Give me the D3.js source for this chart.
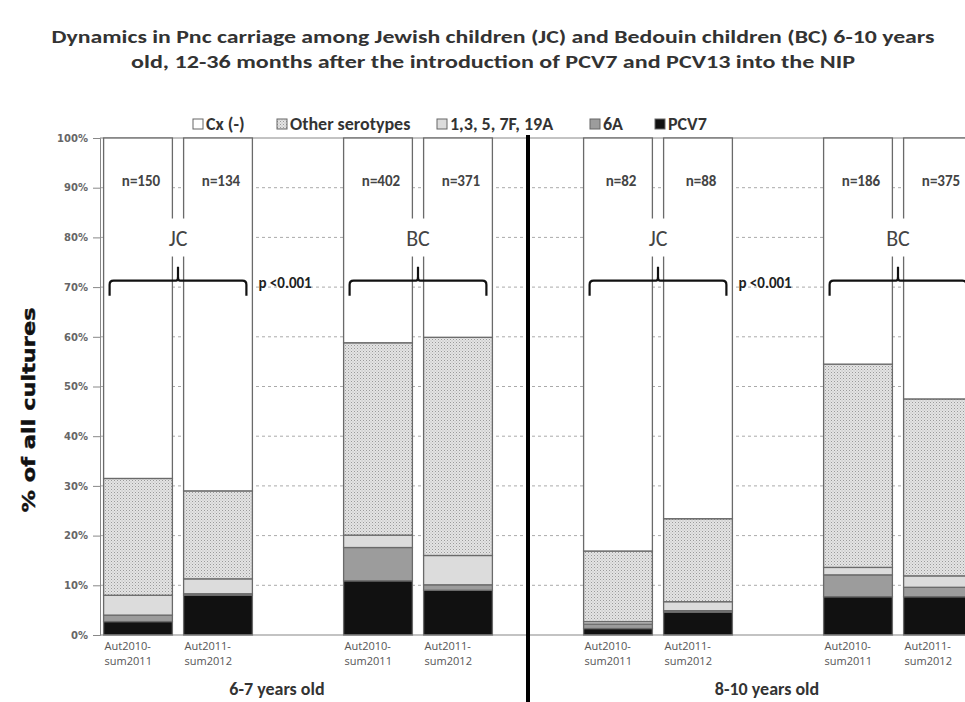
<!DOCTYPE html>
<html>
<head>
<meta charset="utf-8">
<script src="https://cdn.jsdelivr.net/npm/d3@7/dist/d3.min.js"></script>
<style>
  body { margin: 0; background: #fff; }
  svg { display: block; }
</style>
</head>
<body>
<svg id="chart"></svg>
<script>
const width = 965;
const height = 702;

// slots along the x axis, gaps included
const slots = ["JC67a", "JC67b", "gap1", "BC67a", "BC67b", "gap2", "JC810a", "JC810b", "gap3", "BC810a", "BC810b"];
const barKeys = ["JC67a", "JC67b", "BC67a", "BC67b", "JC810a", "JC810b", "BC810a", "BC810b"];
const periodTop = ["Aut2010-", "Aut2011-", "Aut2010-", "Aut2011-", "Aut2010-", "Aut2011-", "Aut2010-", "Aut2011-"];
const periodBottom = ["sum2011", "sum2012", "sum2011", "sum2012", "sum2011", "sum2012", "sum2011", "sum2012"];
const nCounts = [150, 134, 402, 371, 82, 88, 186, 375];

// percent of cultures, bottom to top
const pcv7   = [2.7, 8.0, 10.9, 9.0, 1.3, 4.6, 7.7, 7.7];
const sixA   = [1.3, 0.3, 6.7, 1.1, 0.9, 0.3, 4.4, 1.9];
const sero13 = [4.0, 3.0, 2.5, 5.9, 0.5, 1.8, 1.5, 2.3];
const other  = [23.5, 17.7, 38.7, 43.9, 14.2, 16.7, 40.9, 35.6];
const cxNeg  = [68.5, 71.0, 41.2, 40.1, 83.1, 76.6, 45.5, 52.5];

const seriesKeys = ["pcv7", "sixA", "sero13", "other", "cx"];
const legendLabels = ["Cx (-)", "Other serotypes", "1,3,  5, 7F, 19A", "6A", "PCV7"];
const legendKeys = ["cx", "other", "sero13", "sixA", "pcv7"];

const groups = [
  { label: "JC", a: "JC67a", b: "JC67b", p: "p <0.001" },
  { label: "BC", a: "BC67a", b: "BC67b", p: "" },
  { label: "JC", a: "JC810a", b: "JC810b", p: "p <0.001" },
  { label: "BC", a: "BC810a", b: "BC810b", p: "" }
];
const ageLabels = [
  { label: "6-7 years old", at: 277 },
  { label: "8-10 years old", at: 767 }
];

const yTicks = [0, 10, 20, 30, 40, 50, 60, 70, 80, 90, 100];

const rows = barKeys.map((k, i) => ({
  key: k, pcv7: pcv7[i], sixA: sixA[i], sero13: sero13[i], other: other[i], cx: cxNeg[i]
}));

const svg = d3.select("#chart").attr("width", width).attr("height", height);
const font = "Carlito, 'Open Sans', 'Liberation Sans', sans-serif";

const defs = svg.append("defs");
const pat = defs.append("pattern")
  .attr("id", "dots")
  .attr("patternUnits", "userSpaceOnUse")
  .attr("width", 3).attr("height", 3);
pat.append("rect").attr("width", 3).attr("height", 3).attr("fill", "#e4e4e4");
pat.append("rect").attr("x", 0).attr("y", 0).attr("width", 1).attr("height", 1).attr("fill", "#9a9a9a");
pat.append("rect").attr("x", 1.5).attr("y", 1.5).attr("width", 1).attr("height", 1).attr("fill", "#b5b5b5");

const fills = {
  pcv7: "#111111",
  sixA: "#9c9c9c",
  sero13: "#dcdcdc",
  other: "url(#dots)",
  cx: "#ffffff"
};

const x = d3.scaleBand()
  .domain(slots)
  .range([98, 978])
  .paddingInner(0.14)
  .paddingOuter(0.07);

const y = d3.scaleLinear().domain([0, 100]).range([635, 138]);

// title
svg.append("g").selectAll("text")
  .data(["Dynamics in Pnc carriage among Jewish children (JC) and Bedouin children (BC) 6-10 years",
         "old, 12-36 months after the introduction of PCV7 and PCV13 into the NIP"])
  .enter().append("text")
    .attr("x", 493)
    .attr("y", (d, i) => 43 + i * 25)
    .attr("text-anchor", "middle")
    .attr("font-family", font)
    .attr("font-weight", "bold")
    .attr("font-size", 18)
    .attr("fill", "#333")
    .attr("textLength", (d, i) => i === 0 ? 883 : 724)
    .attr("lengthAdjust", "spacingAndGlyphs")
    .text(d => d);

// grid
svg.append("g").selectAll("line")
  .data(yTicks.filter(t => t > 0 && t < 100))
  .enter().append("line")
    .attr("x1", 100).attr("x2", width)
    .attr("y1", d => y(d)).attr("y2", d => y(d))
    .attr("stroke", "#aaa")
    .attr("stroke-width", 1)
    .attr("stroke-dasharray", "3,3");

svg.append("line")
  .attr("x1", 100).attr("x2", width)
  .attr("y1", y(100)).attr("y2", y(100))
  .attr("stroke", "#888").attr("stroke-width", 1.2);

// y axis
const yAxis = d3.axisLeft(y)
  .tickValues(yTicks)
  .tickFormat(d => d + "%")
  .tickSize(7)
  .tickPadding(5);
const yg = svg.append("g").attr("transform", "translate(100,0)").call(yAxis);
yg.select(".domain").attr("stroke", "#888");
yg.selectAll(".tick line").attr("stroke", "#888");
yg.selectAll(".tick text")
  .attr("font-family", "'DejaVu Sans', sans-serif")
  .attr("font-weight", "bold")
  .attr("font-size", 10)
  .attr("fill", "#666");

svg.append("text")
  .attr("transform", "translate(35,410) rotate(-90)")
  .attr("text-anchor", "middle")
  .attr("font-family", "'DejaVu Sans', sans-serif")
  .attr("font-weight", "bold")
  .attr("font-size", 17)
  .attr("fill", "#111")
  .attr("stroke", "#111")
  .attr("stroke-width", 0.4)
  .attr("textLength", 205)
  .attr("lengthAdjust", "spacingAndGlyphs")
  .text("% of all cultures");

// stacked bars
const stacked = d3.stack().keys(seriesKeys)(rows);
svg.append("g").selectAll("g")
  .data(stacked)
  .enter().append("g")
    .attr("fill", d => fills[d.key])
  .selectAll("rect")
  .data(d => d)
  .enter().append("rect")
    .attr("x", d => x(d.data.key))
    .attr("y", d => y(d[1]))
    .attr("width", x.bandwidth())
    .attr("height", d => y(d[0]) - y(d[1]))
    .attr("stroke", "#6a6a6a")
    .attr("stroke-width", 1.3);

// x axis line
svg.append("line")
  .attr("x1", 100).attr("x2", width)
  .attr("y1", y(0)).attr("y2", y(0))
  .attr("stroke", "#888").attr("stroke-width", 1.2);

// category labels
const catLabels = svg.append("g")
  .attr("font-family", "'Open Sans', sans-serif")
  .attr("font-size", 11)
  .attr("fill", "#555");
catLabels.selectAll("text.top")
  .data(barKeys)
  .enter().append("text")
    .attr("class", "top")
    .attr("x", d => x(d) + 1)
    .attr("y", 650)
    .text((d, i) => periodTop[i]);
catLabels.selectAll("text.bot")
  .data(barKeys)
  .enter().append("text")
    .attr("class", "bot")
    .attr("x", d => x(d) + 1)
    .attr("y", 665)
    .text((d, i) => periodBottom[i]);

svg.append("g").selectAll("text")
  .data(ageLabels)
  .enter().append("text")
    .attr("x", d => d.at)
    .attr("y", 695)
    .attr("text-anchor", "middle")
    .attr("font-family", font)
    .attr("font-weight", "bold")
    .attr("font-size", 18)
    .attr("fill", "#333")
    .text(d => d.label);

// n labels
svg.append("g").selectAll("text")
  .data(barKeys)
  .enter().append("text")
    .attr("x", d => x(d) + x.bandwidth() / 2 + 3)
    .attr("y", 186)
    .attr("text-anchor", "middle")
    .attr("font-family", font)
    .attr("font-weight", "bold")
    .attr("font-size", 15)
    .attr("fill", "#444")
    .text((d, i) => "n=" + nCounts[i]);

// group labels and braces
const gG = svg.append("g");
groups.forEach(g => {
  const x0 = x(g.a) + 6;
  const x1 = x(g.b) + x.bandwidth() - 6;
  const xm = (x(g.a) + x.bandwidth() + x(g.b)) / 2;
  const yb = y(71.3);
  const r = 4;
  gG.append("rect")
    .attr("x", xm - 19).attr("y", y(83.8))
    .attr("width", 38).attr("height", 38)
    .attr("fill", "#fff");
  gG.append("text")
    .attr("x", xm).attr("y", y(78.2))
    .attr("text-anchor", "middle")
    .attr("font-family", font)
    .attr("font-size", 22)
    .attr("fill", "#444")
    .text(g.label);
  const p = d3.path();
  p.moveTo(x0, yb + 15);
  p.lineTo(x0, yb + r);
  p.quadraticCurveTo(x0, yb, x0 + r, yb);
  p.lineTo(xm - 2, yb);
  p.quadraticCurveTo(xm, yb, xm, yb - 4);
  p.lineTo(xm, yb - 14);
  p.moveTo(xm, yb - 4);
  p.quadraticCurveTo(xm, yb, xm + 2, yb);
  p.lineTo(x1 - r, yb);
  p.quadraticCurveTo(x1, yb, x1, yb + r);
  p.lineTo(x1, yb + 15);
  gG.append("path")
    .attr("d", p.toString())
    .attr("fill", "none")
    .attr("stroke", "#111")
    .attr("stroke-width", 2.2);
  if (g.p) {
    gG.append("text")
      .attr("x", x(g.b) + x.bandwidth() + 6)
      .attr("y", yb + 7)
      .attr("font-family", font)
      .attr("font-weight", "bold")
      .attr("font-size", 15)
      .attr("fill", "#222")
      .text(g.p);
  }
});

// divider between age groups
svg.append("line")
  .attr("x1", 528).attr("x2", 528)
  .attr("y1", y(100) - 3).attr("y2", height)
  .attr("stroke", "#000").attr("stroke-width", 4);

// legend
const legendX = [193, 277, 437, 590, 655];
const leg = svg.append("g").attr("transform", "translate(0,130)");
const li = leg.selectAll("g")
  .data(legendKeys)
  .enter().append("g")
    .attr("transform", (d, i) => `translate(${legendX[i]},0)`);
li.append("rect")
  .attr("x", 0).attr("y", -11)
  .attr("width", 10).attr("height", 10)
  .attr("fill", d => fills[d])
  .attr("stroke", "#666")
  .attr("stroke-width", 1);
li.append("text")
  .attr("x", 13).attr("y", 0)
  .attr("font-family", font)
  .attr("font-weight", "bold")
  .attr("font-size", 18)
  .attr("fill", "#333")
  .text((d, i) => legendLabels[i]);
</script>
</body>
</html>
